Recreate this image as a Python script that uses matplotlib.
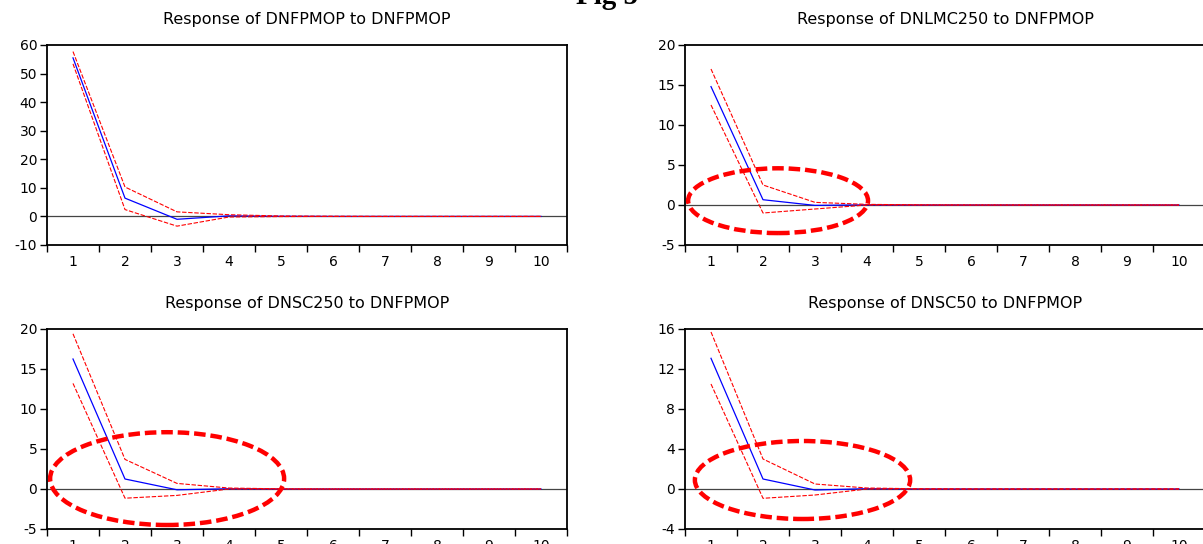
import numpy as np
import matplotlib.pyplot as plt
from matplotlib.patches import Ellipse

# impulse responses
periods = np.arange(1, 11)

titles = ["Response of DNFPMOP to DNFPMOP", "Response of DNLMC250 to DNFPMOP",
          "Response of DNSC250 to DNFPMOP", "Response of DNSC50 to DNFPMOP"]

resp_fpmop = [55.5, 6.4, -1.0, 0.2, 0.05, 0, 0, 0, 0, 0]
up_fpmop = [57.7, 10.3, 1.6, 0.6, 0.15, 0.05, 0, 0, 0, 0]
lo_fpmop = [53.4, 2.4, -3.4, -0.2, -0.05, 0, 0, 0, 0, 0]

resp_lmc = [14.8, 0.66, -0.05, 0.02, 0, 0, 0, 0, 0, 0]
up_lmc = [17.0, 2.5, 0.33, 0.08, 0.02, 0, 0, 0, 0, 0]
lo_lmc = [12.5, -1.0, -0.5, 0.0, 0, 0, 0, 0, 0, 0]

resp_sc250 = [16.25, 1.25, -0.1, 0.03, 0, 0, 0, 0, 0, 0]
up_sc250 = [19.4, 3.7, 0.7, 0.12, 0.02, 0, 0, 0, 0, 0]
lo_sc250 = [13.2, -1.15, -0.8, 0.0, 0, 0, 0, 0, 0, 0]

resp_sc50 = [13.07, 1.0, -0.1, 0.03, 0, 0, 0, 0, 0, 0]
up_sc50 = [15.7, 3.0, 0.5, 0.1, 0.02, 0, 0, 0, 0, 0]
lo_sc50 = [10.5, -0.93, -0.6, 0.0, 0, 0, 0, 0, 0, 0]

ylims = [(-10, 60), (-5, 20), (-5, 20), (-4, 16)]
yticks = [np.arange(-10, 61, 10), np.arange(-5, 21, 5), np.arange(-5, 21, 5), np.arange(-4, 17, 4)]

# ellipses: (center x, center y, width, height), None where there is none
ellipses = [None, (2.29, 0.54, 3.46, 8.1), (2.81, 1.3, 4.5, 11.6), (2.76, 0.9, 4.14, 7.8)]

responses = [resp_fpmop, resp_lmc, resp_sc250, resp_sc50]
uppers = [up_fpmop, up_lmc, up_sc250, up_sc50]
lowers = [lo_fpmop, lo_lmc, lo_sc250, lo_sc50]

plt.rcParams['font.family'] = ['DejaVu Sans']
plt.rcParams['axes.unicode_minus'] = False
fig = plt.figure(figsize=(12.03, 5.44), dpi=100)

W, H = 1203, 544
boxes = [(47, 245), (685, 245), (47, 529), (685, 529)]  # left, bottom in pixels

for i in range(4):
    l, b = boxes[i]
    ax = fig.add_axes([l/W, (H-b)/H, 520/W, 200/H])
    ax.axhline(0, color='#444444', lw=0.9, zorder=1)
    ax.plot(periods, uppers[i], color='red', ls=(0, (4, 1.5)), lw=0.8, zorder=3)
    ax.plot(periods, lowers[i], color='red', ls=(0, (4, 1.5)), lw=0.8, zorder=3)
    ax.plot(periods, responses[i], color='blue', lw=0.9, zorder=2)
    if ellipses[i] is not None:
        cx, cy, ew, eh = ellipses[i]
        ax.add_patch(Ellipse((cx, cy), ew, eh, fill=False, edgecolor='red',
                             lw=3.2, ls=(0, (2.6, 1.1)), zorder=4, clip_on=False))
    ax.set_xlim(0.5, 10.5)
    ax.set_ylim(*ylims[i])
    ax.set_yticks(yticks[i])
    ax.set_xticks(periods)
    ax.set_xticks(np.arange(0.5, 11, 1), minor=True)
    ax.tick_params(axis='x', which='major', length=0, labelsize=10, pad=7)
    ax.tick_params(axis='x', which='minor', length=5, width=1, direction='out')
    ax.tick_params(axis='y', length=5, width=1, direction='out', labelsize=10, pad=2)
    for s in ax.spines.values():
        s.set_linewidth(1.3)
    ax.set_title(titles[i], fontsize=11.5, pad=15)

fig.text(0.505, 1 - 4/H, "Fig 5", ha='center', va='baseline', fontsize=21,
         family='Liberation Serif', weight='bold')

plt.savefig("out.png", dpi=100)
